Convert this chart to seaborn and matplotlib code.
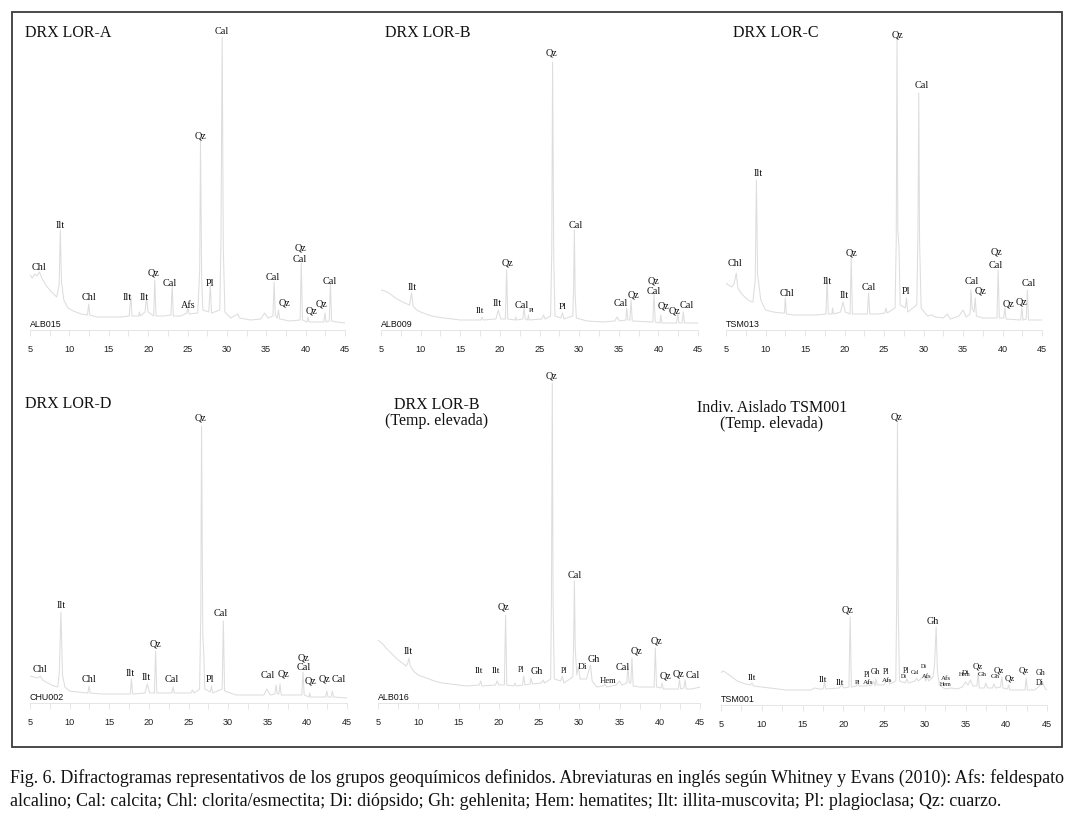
import matplotlib
matplotlib.use("Agg")
import matplotlib.pyplot as plt
from matplotlib.patches import Rectangle
import seaborn as sns

# ---------------- DATA (2theta in degrees, intensity in a.u.) ----------------
lor_a_2theta = [5.0, 5.3, 5.6, 5.9, 6.2, 6.5, 7.0, 7.5, 8.0, 8.4, 8.7, 8.85, 9.0, 9.3, 9.8, 10.5, 11.5,
                12.3, 12.45, 12.6, 13.5, 15.0, 16.5, 17.6, 17.8, 17.95, 18.8, 18.9, 19.0, 19.6, 19.8, 20.0,
                20.7, 20.85, 21.0, 22.0, 22.9, 23.05, 23.2, 24.2, 24.9, 25.05, 25.2, 26.3, 26.55, 26.65,
                26.8, 26.95, 27.7, 27.9, 28.05, 29.1, 29.25, 29.4, 29.55, 29.75, 30.5, 31.4, 31.6, 33.0,
                34.3, 34.8, 35.2, 35.85, 36.0, 36.15, 36.4, 36.55, 36.7, 38.0, 39.3, 39.45, 39.6, 40.2,
                40.3, 40.45, 42.3, 42.45, 42.6, 43.0, 43.15, 43.3, 44.0, 45.0]
lor_a_counts = [55, 52, 56, 54, 58, 52, 45, 40, 36, 33, 45, 100, 48, 30, 22, 19, 16,
                15, 26, 15, 13, 13, 13, 14, 35, 14, 14, 18, 14, 18, 32, 18,
                14, 50, 14, 14, 15, 45, 14, 14, 17, 22, 16, 17, 60, 190,
                50, 20, 18, 45, 17, 20, 90, 293, 80, 18, 12, 16, 12, 10,
                11, 17, 12, 14, 48, 15, 12, 20, 11, 9, 10, 67, 10, 8,
                13, 8, 8, 17, 8, 9, 47, 9, 8, 7]

lor_b_2theta = [5.0, 5.5, 6.0, 6.5, 7.0, 7.5, 8.0, 8.6, 8.85, 9.05, 9.5, 10.0, 11.0, 12.0, 13.0, 14.0,
                15.0, 16.0, 17.6, 17.75, 17.9, 19.5, 19.8, 20.1, 20.7, 20.85, 21.0, 21.9, 22.0, 22.1,
                22.9, 23.05, 23.2, 23.5, 23.6, 23.7, 25.3, 25.5, 25.7, 26.4, 26.55, 26.65, 26.8, 26.95,
                27.7, 27.9, 28.1, 29.2, 29.3, 29.4, 29.5, 29.65, 31.0, 33.0, 34.5, 34.8, 35.1, 35.9,
                36.0, 36.15, 36.4, 36.55, 36.7, 39.3, 39.45, 39.6, 40.2, 40.3, 40.45, 42.3, 42.45,
                42.6, 43.0, 43.15, 43.3, 45.0]
lor_b_counts = [40, 39, 37, 34, 31, 29, 27, 25, 37, 24, 20, 18, 15, 13, 12, 11,
                10, 10, 10, 13, 10, 11, 20, 11, 11, 60, 11, 10, 13, 10,
                11, 22, 11, 10, 15, 10, 11, 15, 11, 14, 80, 268, 70, 14,
                12, 17, 11, 14, 40, 100, 35, 12, 9, 8, 9, 13, 9, 10,
                22, 10, 10, 30, 9, 8, 37, 8, 7, 15, 7, 7, 17,
                7, 7, 18, 7, 7]

lor_c_2theta = [5.0, 5.3, 5.7, 6.0, 6.3, 6.5, 7.0, 7.5, 8.0, 8.4, 8.7, 8.85, 9.0, 9.2, 9.4, 10.0, 11.0,
                12.0, 12.4, 12.5, 12.65, 13.5, 15.0, 16.5, 17.65, 17.8, 17.95, 18.4, 18.5, 18.6, 19.5,
                19.8, 20.1, 20.7, 20.85, 21.0, 22.0, 22.9, 23.05, 23.2, 24.2, 25.1, 25.25, 25.4, 26.4,
                26.55, 26.65, 26.75, 26.9, 27.05, 27.7, 27.85, 28.0, 29.15, 29.3, 29.4, 29.5, 29.7,
                30.5, 31.0, 31.5, 32.5, 33.0, 33.4, 34.5, 35.0, 35.4, 35.9, 36.0, 36.15, 36.4, 36.55,
                36.7, 37.5, 39.3, 39.45, 39.6, 40.15, 40.3, 40.45, 42.3, 42.45, 42.6, 43.0, 43.15,
                43.3, 45.0]
lor_c_counts = [47, 45, 43, 46, 57, 42, 36, 32, 29, 28, 50, 150, 55, 43, 30, 20, 18,
                17, 17, 32, 16, 15, 15, 15, 16, 50, 16, 16, 22, 16, 18,
                28, 18, 16, 72, 16, 16, 16, 37, 16, 16, 17, 22, 17, 22,
                90, 293, 100, 83, 25, 22, 32, 18, 25, 100, 237, 90, 22,
                14, 15, 13, 12, 16, 11, 14, 20, 13, 16, 40, 22, 18, 32,
                14, 12, 12, 60, 12, 12, 22, 11, 10, 22, 10, 11, 40,
                10, 10]

lor_d_2theta = [5.0, 5.5, 6.0, 6.3, 6.6, 7.0, 7.5, 8.0, 8.5, 8.7, 8.9, 9.1, 9.4, 10.0, 11.0, 12.3, 12.45,
                12.6, 14.0, 16.0, 17.65, 17.8, 17.95, 19.5, 19.8, 20.1, 20.7, 20.85, 21.0, 22.9, 23.05,
                23.2, 25.3, 25.5, 25.7, 26.4, 26.55, 26.65, 26.8, 26.95, 27.05, 27.75, 27.9, 28.05,
                29.25, 29.4, 29.55, 31.0, 33.0, 34.5, 34.9, 35.3, 35.9, 36.05, 36.2, 36.4, 36.55, 36.7,
                39.3, 39.45, 39.6, 40.2, 40.3, 40.4, 42.3, 42.45, 42.6, 43.0, 43.15, 43.3, 45.0]
lor_d_counts = [27, 26, 25, 27, 23, 21, 19, 17, 16, 30, 91, 28, 16, 12, 11, 10, 17,
                10, 9, 9, 9, 24, 9, 10, 19, 10, 10, 52, 10, 10, 16,
                10, 10, 13, 10, 14, 90, 277, 70, 45, 14, 11, 17, 10,
                14, 82, 12, 8, 8, 8, 14, 8, 9, 18, 9, 9, 19, 8,
                8, 31, 8, 6, 10, 6, 6, 12, 6, 6, 12, 6, 5]

lor_b_ht_2theta = [5.0, 5.3, 5.6, 6.0, 6.5, 7.0, 7.5, 8.0, 8.5, 8.7, 8.85, 9.0, 9.5, 10.0, 11.0, 12.0,
                   13.0, 14.0, 15.0, 16.0, 17.6, 17.75, 17.9, 19.6, 19.8, 20.0, 20.7, 20.85, 21.0, 21.9,
                   22.0, 22.2, 22.95, 23.1, 23.25, 23.9, 24.0, 24.2, 25.3, 25.5, 25.7, 26.45, 26.55,
                   26.65, 26.75, 26.9, 27.7, 27.9, 28.1, 29.2, 29.3, 29.4, 29.5, 29.7, 29.9, 30.1, 30.9,
                   31.1, 31.4, 31.6, 32.2, 33.0, 33.2, 33.4, 34.6, 35.0, 35.3, 35.9, 36.05, 36.2, 36.4,
                   36.55, 36.7, 37.5, 38.5, 39.3, 39.45, 39.6, 40.15, 40.3, 40.45, 42.3, 42.45, 42.6,
                   43.0, 43.15, 43.3, 44.0, 45.0]
lor_b_ht_counts = [63, 61, 59, 55, 51, 47, 43, 40, 37, 40, 45, 37, 31, 28, 25, 22,
                   20, 19, 18, 17, 18, 22, 17, 18, 22, 18, 18, 88, 18, 17,
                   20, 17, 18, 27, 18, 19, 25, 19, 20, 23, 20, 24, 110,
                   320, 100, 24, 22, 27, 20, 26, 60, 122, 55, 28, 37, 24, 24,
                   30, 38, 22, 16, 17, 19, 16, 18, 22, 18, 20, 37, 20, 20,
                   45, 17, 16, 16, 16, 55, 16, 15, 20, 14, 14, 23, 14,
                   15, 23, 14, 14, 16]

tsm001_2theta = [5.0, 5.2, 5.5, 6.0, 6.5, 7.0, 8.0, 8.6, 8.8, 9.0, 10.0, 11.0, 12.0, 13.0, 14.0, 15.0,
                 16.0, 16.5, 17.0, 17.55, 17.7, 17.85, 19.5, 19.8, 20.1, 20.7, 20.85, 21.0, 21.6, 21.75,
                 21.9, 22.9, 23.05, 23.2, 23.5, 23.7, 23.9, 24.0, 24.2, 25.0, 25.3, 25.5, 25.7, 26.45,
                 26.55, 26.65, 26.75, 26.9, 27.6, 27.8, 28.0, 28.8, 29.0, 29.2, 29.5, 29.9, 30.1, 30.3,
                 30.5, 31.0, 31.2, 31.4, 31.55, 31.8, 32.5, 33.2, 34.0, 34.6, 35.0, 35.3, 35.6, 35.9,
                 36.4, 36.55, 36.7, 37.3, 37.5, 37.7, 38.3, 38.5, 38.7, 39.3, 39.45, 39.6, 40.15, 40.3,
                 40.45, 42.3, 42.45, 42.6, 43.5, 44.2, 44.5, 44.8, 45.0]
tsm001_counts = [32, 34, 33, 30, 27, 24, 21, 20, 22, 19, 18, 17, 16, 15, 15, 15,
                 15, 17, 16, 16, 23, 16, 17, 20, 17, 18, 88, 18, 19, 22,
                 19, 19, 24, 19, 20, 24, 19, 26, 20, 20, 24, 26, 21, 24,
                 100, 282, 95, 24, 22, 26, 22, 24, 27, 24, 26, 30, 24, 28,
                 24, 28, 40, 78, 35, 20, 16, 17, 16, 18, 23, 20, 25, 19,
                 19, 32, 17, 17, 22, 17, 17, 21, 17, 18, 28, 17, 16, 20,
                 15, 15, 27, 15, 15, 20, 22, 16, 15]

# peak labels: mineral, 2theta, label height (a.u.)
lor_a_labels = ["Chl", "Ilt", "Chl", "Ilt", "Ilt", "Qz", "Cal", "Afs", "Qz", "Pl", "Cal", "Cal", "Qz",
                "Qz", "Cal", "Qz", "Qz", "Cal"]
lor_a_lab_2theta = [6.2, 8.85, 12.45, 17.4, 19.5, 20.7, 22.8, 25.05, 26.6, 27.9, 29.3, 35.8, 37.35,
                    39.3, 39.3, 40.8, 42.05, 43.1]
lor_a_lab_h = [63, 104, 32, 32, 32, 57, 47, 24, 194, 47, 298, 52, 27, 82, 71, 19, 26, 49]

lor_b_labels = ["Ilt", "Ilt", "Ilt", "Qz", "Cal", "Pl", "Qz", "Pl", "Cal", "Cal", "Qz", "Qz", "Cal",
                "Qz", "Qz", "Cal"]
lor_b_lab_2theta = [8.9, 17.5, 19.7, 20.9, 22.7, 24.0, 26.55, 27.95, 29.6, 35.2, 36.9, 39.4, 39.4,
                    40.6, 42.0, 43.6]
lor_b_lab_h = [43, 19, 26, 67, 25, 19, 277, 23, 105, 26, 35, 49, 38, 24, 19, 24]

lor_c_labels = ["Chl", "Ilt", "Chl", "Ilt", "Ilt", "Qz", "Cal", "Qz", "Pl", "Cal", "Cal", "Qz", "Qz",
                "Cal", "Qz", "Qz", "Cal"]
lor_c_lab_2theta = [6.2, 9.05, 12.7, 17.8, 20.0, 20.9, 23.05, 26.65, 27.8, 29.8, 36.05, 37.2, 39.2,
                    39.2, 40.7, 42.35, 43.3]
lor_c_lab_h = [67, 156, 36, 48, 34, 77, 43, 295, 39, 244, 49, 39, 78, 65, 26, 28, 46]

lor_d_labels = ["Chl", "Ilt", "Chl", "Ilt", "Ilt", "Qz", "Cal", "Qz", "Pl", "Cal", "Cal", "Qz", "Qz",
                "Cal", "Qz", "Qz", "Cal"]
lor_d_lab_2theta = [6.2, 8.9, 12.4, 17.6, 19.6, 20.85, 22.85, 26.5, 27.65, 29.1, 35.0, 37.0, 39.5,
                    39.5, 40.45, 42.15, 43.95]
lor_d_lab_h = [33, 97, 23, 29, 25, 59, 23, 285, 23, 89, 27, 29, 45, 35, 22, 24, 23]

lor_b_ht_labels = ["Ilt", "Ilt", "Ilt", "Qz", "Pl", "Gh", "Qz", "Pl", "Cal", "Di", "Gh", "Hem", "Cal",
                   "Qz", "Qz", "Qz", "Qz", "Cal"]
lor_b_ht_lab_2theta = [8.8, 17.5, 19.65, 20.6, 22.7, 24.7, 26.5, 28.05, 29.5, 30.4, 31.8, 33.6, 35.45,
                       37.1, 39.6, 40.75, 42.3, 44.15]
lor_b_ht_lab_h = [52, 32, 32, 96, 33, 32, 327, 32, 128, 36, 44, 22, 35, 52, 62, 27, 29, 27]

tsm001_labels = ["Ilt", "Ilt", "Ilt", "Qz", "Pl", "Pl", "Afs", "Gh", "Pl", "Afs", "Qz", "Pl", "Di",
                 "Cal", "Di", "Afs", "Gh", "Afs", "Hem", "Di", "Hem", "Qz", "Gh", "Gh", "Qz", "Qz",
                 "Qz", "Gh", "Di"]
tsm001_lab_2theta = [8.8, 17.55, 19.6, 20.55, 21.7, 22.95, 23.05, 23.9, 25.3, 25.4, 26.55, 27.7, 27.4,
                     28.8, 29.95, 30.25, 30.95, 32.55, 32.55, 34.95, 34.95, 36.45, 37.1, 38.6, 39.1,
                     40.4, 42.1, 44.15, 44.15]
tsm001_lab_h = [27, 25, 22, 95, 23, 30, 22, 33, 33, 25, 288, 34, 28, 33, 39, 28, 83, 27, 21, 33, 30,
                39, 30, 29, 34, 27, 35, 32, 22]

titles = ["DRX LOR-A", "DRX LOR-B", "DRX LOR-C", "DRX LOR-D",
          "DRX LOR-B\n(Temp. elevada)", "Indiv. Aislado TSM001\n(Temp. elevada)"]
samples = ["ALB015", "ALB009", "TSM013", "CHU002", "ALB016", "TSM001"]
x_ticks = [5, 10, 15, 20, 25, 30, 35, 40, 45]

caption_1 = ("Fig. 6. Difractogramas representativos de los grupos geoquímicos definidos. "
             "Abreviaturas en inglés según Whitney y Evans (2010): Afs: feldespato")
caption_2 = ("alcalino; Cal: calcita; Chl: clorita/esmectita; Di: diópsido; Gh: gehlenita; "
             "Hem: hematites; Ilt: illita-muscovita; Pl: plagioclasa; Qz: cuarzo.")

# ---------------- STYLE / LAYOUT ----------------
sns.set_style("white")
plt.rcParams["font.family"] = ["Liberation Serif", "DejaVu Serif"]

W, H, DPI = 1082, 816, 100
fig = plt.figure(figsize=(W / DPI, H / DPI), dpi=DPI)
fig.patch.set_facecolor("white")

def fx(p):
    return p / W

def fy(p):
    return 1 - p / H

LINE_COL = "#dddddd"
AXIS_COL = "#e6e6e6"
SANS = ["Liberation Sans", "DejaVu Sans"]

# pixel boxes: (x of 5deg, x of 45deg, axis y, top y)
boxes = [(30, 345, 330, 15), (381, 698, 330, 15), (726, 1042, 330, 15),
         (30, 347, 703, 365), (378, 700, 703, 365), (721, 1047, 705, 365)]

spectra = [(lor_a_2theta, lor_a_counts), (lor_b_2theta, lor_b_counts), (lor_c_2theta, lor_c_counts),
           (lor_d_2theta, lor_d_counts), (lor_b_ht_2theta, lor_b_ht_counts),
           (tsm001_2theta, tsm001_counts)]
labels = [(lor_a_labels, lor_a_lab_2theta, lor_a_lab_h),
          (lor_b_labels, lor_b_lab_2theta, lor_b_lab_h),
          (lor_c_labels, lor_c_lab_2theta, lor_c_lab_h),
          (lor_d_labels, lor_d_lab_2theta, lor_d_lab_h),
          (lor_b_ht_labels, lor_b_ht_lab_2theta, lor_b_ht_lab_h),
          (tsm001_labels, tsm001_lab_2theta, tsm001_lab_h)]

# label font sizes per panel (style)
label_sizes = [
    [7.3] * len(lor_a_labels),
    [7.3, 6.8, 7.3, 7.3, 7.3, 5.0, 7.3, 6.8, 7.3, 7.3, 7.3, 7.3, 7.3, 7.3, 7.3, 7.3],
    [7.3] * len(lor_c_labels),
    [7.3] * len(lor_d_labels),
    [7.3, 6.8, 6.8, 7.3, 5.5, 7.3, 7.3, 5.5, 7.3, 6.8, 7.3, 6.2, 7.3, 7.3, 7.3, 7.3, 7.3, 7.3],
    [6.8, 6.8, 6.8, 7.3, 4.8, 5.5, 5.2, 5.5, 5.5, 5.2, 7.3, 5.5, 4.3, 4.3, 4.3, 4.8, 7.3, 5.0, 4.3,
     5.2, 4.3, 6.4, 5.2, 5.2, 6.4, 6.4, 6.4, 5.7, 5.7],
]

title_pos = [(25, 33, "left"), (385, 33, "left"), (733, 33, "left"), (25, 404, "left"),
             (437, 413, "center"), (772, 416, "center")]

for i, ((x5, x45, yax, ytop), (tt, cts)) in enumerate(zip(boxes, spectra)):
    ax = fig.add_axes([fx(x5), fy(yax), fx(x45 - x5), (yax - ytop) / H])
    ax.set_facecolor("none")
    sns.lineplot(x=tt, y=cts, ax=ax, color=LINE_COL, lw=0.75, estimator=None, sort=False)
    ax.set_xlim(5, 45)
    ax.set_ylim(0, yax - ytop)
    for s in ["top", "left", "right"]:
        ax.spines[s].set_visible(False)
    ax.spines["bottom"].set_color(AXIS_COL)
    ax.spines["bottom"].set_linewidth(0.7)
    ax.set_xticks(x_ticks)
    ax.set_xticks([7.5, 12.5, 17.5, 22.5, 27.5, 32.5, 37.5, 42.5], minor=True)
    ax.set_xticklabels([str(t) for t in x_ticks], fontfamily=SANS, fontsize=6.6, color="#222222")
    ax.tick_params(axis="x", which="both", direction="out", length=4.5, width=0.7,
                   color=AXIS_COL, pad=6.0, bottom=True)
    ax.set_yticks([])
    ax.set_xlabel("")
    ax.set_ylabel("")
    names, pos, hts = labels[i]
    for n, p, h, fs in zip(names, pos, hts, label_sizes[i]):
        ax.text(p, h, n, ha="center", va="center", fontsize=fs, color="#111111", clip_on=False)
    ax.text(5.0, 5.5, samples[i], ha="left", va="center", fontsize=6.4, fontfamily=SANS,
            color="#111111", clip_on=False)
    tx, ty, ha = title_pos[i]
    fig.text(fx(tx), fy(ty), titles[i], ha=ha, va="center", fontsize=11.5, color="#111111",
             linespacing=1.05)

# outer frame
fig.patches.append(Rectangle((fx(12), fy(747)), fx(1062 - 12), (747 - 12) / H,
                             transform=fig.transFigure, fill=False, edgecolor="#3a3a3a",
                             lw=1.3, zorder=10))

# caption, scaled to match width
t1 = fig.text(fx(10), fy(778), caption_1, ha="left", va="center", fontsize=11, color="#111111")
t2 = fig.text(fx(10), fy(801), caption_2, ha="left", va="center", fontsize=11, color="#111111")
fig.canvas.draw()
r = fig.canvas.get_renderer()
w1 = t1.get_window_extent(r).width
fs = 11 * (1053 / w1)
t1.set_fontsize(fs)
t2.set_fontsize(fs)

fig.savefig("out.png", dpi=DPI, facecolor="white")
